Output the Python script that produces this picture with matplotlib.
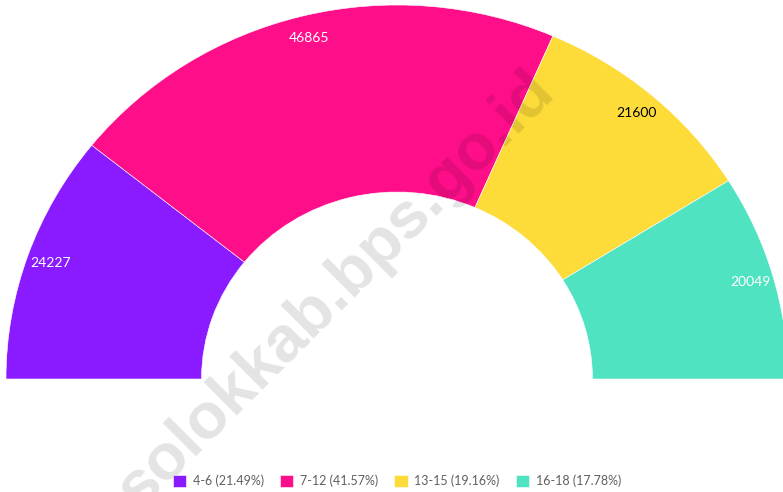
import numpy as np
from matplotlib import pyplot as plt

# ---------------------------------------
# Data
# ---------------------------------------
age_groups = ["4-6", "7-12", "13-15", "16-18"]
counts = [24227, 46865, 21600, 20049]
colors = ["#8a1aff", "#ff0e8a", "#fddc3a", "#50e3c2"]
label_colors = ["white", "white", "black", "white"]

total = sum(counts)
shares = [c / total * 100 for c in counts]

# ---------------------------------------
# Figure : half donut (slightly squashed like the original)
# ---------------------------------------
W, H = 783, 492
cx, cy = 397, 379      # centre of the ring in pixels
rx, ry = 391, 374      # outer radius in pixels (x / y)

fig = plt.figure(figsize=(W / 100, H / 100), dpi=100)
ax = fig.add_axes([0, 0, 1, 1])

wedges, _ = ax.pie(counts + [total], startangle=180, counterclock=False,
                   colors=colors + ["none"], radius=1,
                   wedgeprops=dict(width=0.5, edgecolor="white", linewidth=0.4))
wedges[-1].set_visible(False)

ax.set_aspect("auto")
ax.set_xlim((0 - cx) / rx, (W - cx) / rx)
ax.set_ylim((cy - H) / ry, cy / ry)
ax.axis("off")

# data labels near the outer rim
start = 180.0
for c, col in zip(counts, label_colors):
    span = c / total * 180
    mid = np.deg2rad(start - span / 2)
    start -= span
    ax.text(0.94 * np.cos(mid), 0.94 * np.sin(mid), str(c),
            ha="center", va="center", fontsize=10, color=col, family="Lato")

# watermark (runs off the bottom edge like the original)
fig.text(140 / W, 1 - 511 / H, "solokkab.bps.go.id", rotation=45,
         rotation_mode="anchor", ha="left", va="baseline",
         fontsize=47, fontweight="bold", family="Liberation Sans",
         color="black", alpha=0.11)

# legend
leg_labels = [f"{g} ({s:.2f}%)" for g, s in zip(age_groups, shares)]
leg = fig.legend(wedges[:-1], leg_labels, loc="center", ncol=4,
                 bbox_to_anchor=(397 / W, 11 / H), frameon=False,
                 handlelength=1.05, handleheight=1.05, handletextpad=0.55,
                 columnspacing=1.3, prop=dict(family="Lato", size=9))
for t in leg.get_texts():
    t.set_color("#606060")

fig.savefig("out.png", dpi=100)
